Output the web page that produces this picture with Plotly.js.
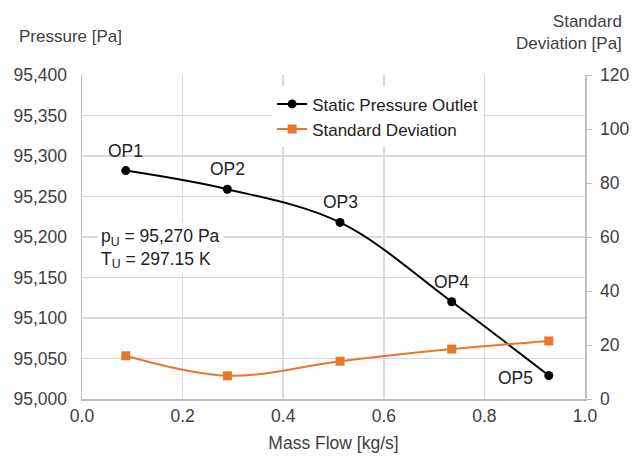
<!DOCTYPE html>
<html><head><meta charset="utf-8">
<script src="https://cdn.plot.ly/plotly-3.0.1.min.js"></script>
<style>body{margin:0;background:#fff}#c{width:641px;height:457px}</style>
</head><body><div id="c"></div>
<script>
const massFlow = [0.087, 0.289, 0.513, 0.735, 0.928];
const pressure = [95282, 95259, 95218, 95120, 95029];
const stdDev = [16.0, 8.6, 14.0, 18.5, 21.5];
const opLabels = ['OP1', 'OP2', 'OP3', 'OP4', 'OP5'];

const grey = '#404040';
const fontFam = 'Liberation Sans, Arial, sans-serif';
const fs = 17.5;

const traces = [
  {
    x: massFlow, y: pressure, name: 'Static Pressure Outlet',
    mode: 'lines+markers',
    line: {color: '#000000', width: 2, shape: 'spline'},
    marker: {symbol: 'circle', size: 9, color: '#000000'},
    yaxis: 'y'
  },
  {
    x: massFlow, y: stdDev, name: 'Standard Deviation',
    mode: 'lines+markers',
    line: {color: '#E8762B', width: 2, shape: 'spline'},
    marker: {symbol: 'square', size: 9, color: '#E8762B'},
    yaxis: 'y2'
  }
];

const opAnnotations = opLabels.map((t, i) => {
  const last = i === opLabels.length - 1;
  return {
    xref: 'x', yref: 'y', x: massFlow[i], y: pressure[i], text: t, showarrow: false,
    xanchor: last ? 'right' : 'center', yanchor: 'middle',
    xshift: last ? -14 : 0, yshift: last ? -2 : 20,
    font: {size: fs, color: '#222'}
  };
});

const layout = {
  width: 641, height: 457,
  margin: {l: 82, r: 56, t: 75, b: 58},
  paper_bgcolor: '#fff', plot_bgcolor: '#fff',
  separators: '.,',
  font: {family: fontFam, size: fs, color: grey},
  showlegend: true,
  legend: {x: 0.378, y: 0.965, xanchor: 'left', yanchor: 'top', bgcolor: '#ffffff',
    font: {size: 17, color: '#222'}, tracegroupgap: 0},
  xaxis: {
    range: [0, 1], dtick: 0.2, tickformat: '.1f',
    showgrid: true, gridcolor: '#d9d9d9', gridwidth: 1.5,
    showline: true, linecolor: '#bfbfbf', linewidth: 1.5,
    zeroline: false, ticks: '', tickfont: {size: fs, color: grey},
    title: {text: 'Mass Flow [kg/s]', font: {size: fs, color: grey}, standoff: 12}
  },
  yaxis: {
    range: [95000, 95400], dtick: 50, tickformat: ',d',
    showgrid: true, gridcolor: '#d9d9d9', gridwidth: 1.5,
    showline: true, linecolor: '#bfbfbf', linewidth: 1.5,
    zeroline: false, ticks: '', tickfont: {size: fs, color: grey}, ticklabelstandoff: 10
  },
  yaxis2: {
    overlaying: 'y', side: 'right', range: [0, 120], dtick: 20,
    showgrid: false, showline: true, linecolor: '#bfbfbf', linewidth: 1.5,
    ticks: 'outside', ticklen: 5, tickcolor: '#bfbfbf',
    zeroline: false, tickfont: {size: fs, color: grey}, ticklabelstandoff: 5
  },
  annotations: [
    {xref: 'paper', yref: 'paper', x: -0.129, y: 1.12, xanchor: 'left', yanchor: 'middle',
     text: 'Pressure [Pa]', showarrow: false, font: {size: 17, color: grey}},
    {xref: 'paper', yref: 'paper', x: 1.0775, y: 1.13, xanchor: 'right', yanchor: 'middle', align: 'right',
     text: 'Standard<br>Deviation [Pa]', showarrow: false, font: {size: 17, color: grey}},
    {xref: 'paper', yref: 'paper', x: 0.03, y: 0.463, xanchor: 'left', yanchor: 'middle', align: 'left',
     text: 'p<sub>U</sub> = 95,270 Pa<br>T<sub>U</sub> = 297.15 K', showarrow: false,
     font: {size: fs, color: '#222'}, bgcolor: '#fff', borderpad: 3}
  ].concat(opAnnotations)
};

Plotly.newPlot('c', traces, layout, {displayModeBar: false, staticPlot: true});
</script></body></html>
